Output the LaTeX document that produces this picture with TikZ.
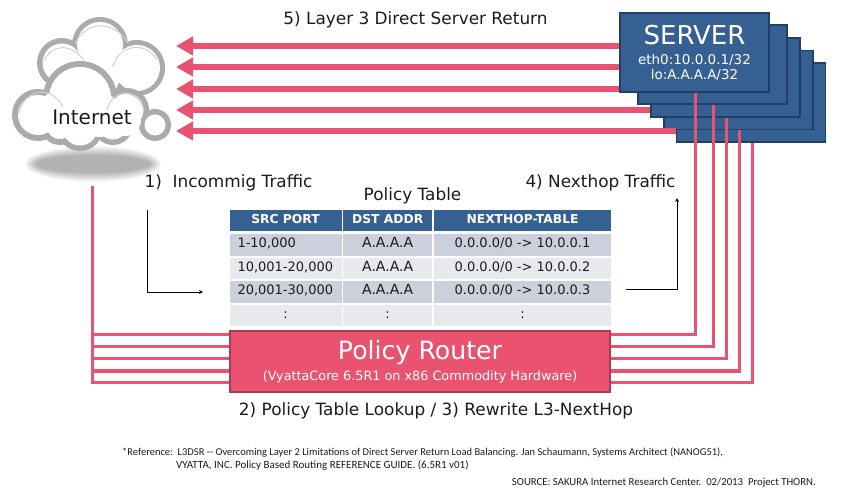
\documentclass[tikz,border=0pt]{standalone}
\usepackage{fontspec}
\setmainfont{DejaVu Sans}
\newfontfamily\notefont{Carlito}
\usetikzlibrary{arrows.meta,positioning}
\definecolor{routerred}{HTML}{E9536F}
\definecolor{routeredge}{HTML}{B03A56}
\definecolor{serverblue}{HTML}{376092}
\definecolor{serveredge}{HTML}{1F3F66}
\definecolor{rowdark}{HTML}{CBD0DC}
\definecolor{rowlight}{HTML}{E7E9ED}
\definecolor{ringgray}{HTML}{ABABAB}
\definecolor{inktext}{HTML}{1C1C1C}
\newcommand{\fs}[1]{\fontsize{#1}{#1}\selectfont}
\begin{document}
\begin{tikzpicture}[
    x=1pt, y=-1pt,
    server/.style={rectangle, draw=serveredge, line width=1.4pt, fill=serverblue, minimum width=149pt, minimum height=79pt, inner sep=0pt},
    router/.style={rectangle, draw=routeredge, line width=1.6pt, fill=routerred, minimum width=380pt, minimum height=61pt, inner sep=0pt},
    cellhead/.style={rectangle, fill=serverblue, text=white, inner sep=0pt, minimum height=21pt, text height=9pt, text depth=2pt, font=\fs{12.3}\bfseries},
    celldark/.style={rectangle, fill=rowdark, text=inktext, inner sep=0pt, minimum height=21.5pt, text height=9pt, text depth=3.5pt, font=\fs{13}},
    celllight/.style={rectangle, fill=rowlight, text=inktext, inner sep=0pt, minimum height=21.5pt, text height=9pt, text depth=3.5pt, font=\fs{13}},
    addr/.style={font=\fs{14}},
    label/.style={text=inktext, inner sep=0pt, font=\fs{16.9}},
    note/.style={text=inktext, inner sep=0pt, font=\notefont\fs{10.5}},
    bigarrow/.style={draw=routerred, line width=5.5pt, -{Triangle[length=17pt,width=18pt]}},
    link/.style={draw=routerred, line width=3pt},
    arrow/.style={->, >=stealth, line width=0.8pt, draw=black},
    glint/.style={draw=black!18, line width=1pt}
]
    \useasboundingbox[fill=white] (0,0) rectangle (843,502);

    % Cloud shadow
    \foreach \k in {0,1,...,9}
        \fill[black!\the\numexpr 3+\k*3\relax] (93,164) ellipse [x radius=68-\k*1.2, y radius=18-\k*1];

    % Back cloud
    \foreach \cx/\cy/\r in {100/45/28, 62/63/25, 137/68/28, 95/75/30}
        \fill[ringgray] (\cx,\cy) circle [radius=\r];
    \foreach \cx/\cy/\r in {100/45/23, 62/63/19.5, 137/68/23, 95/75/25}
        \fill[white] (\cx,\cy) circle [radius=\r];
    \draw[glint] (75,44) .. controls (85,20) and (115,20) .. (128,43);
    \draw[glint] (44,60) .. controls (55,42) and (72,45) .. (84,60);
    \draw[glint] (113,67) .. controls (118,45) and (145,40) .. (157,60);
    % Front cloud
    \foreach \cx/\cy/\r in {38/115/26, 80/98/37, 127/110/22, 155/125/16, 80/128/23, 113/125/20, 60/125/20}
        \fill[ringgray] (\cx,\cy) circle [radius=\r];
    \foreach \cx/\cy/\r in {38/115/20, 80/98/31, 127/110/16.5, 155/125/10.5, 80/128/17.5, 113/125/14.5, 60/125/14, 60/112/22, 100/115/22, 125/120/16}
        \fill[white] (\cx,\cy) circle [radius=\r];
    \draw[glint] (19,113) .. controls (25,88) and (52,85) .. (63,107);
    \draw[glint] (107,110) .. controls (112,88) and (138,88) .. (144,110);
    \node[text=inktext, inner sep=0pt, font=\fs{20}] (internet) at (92,117) {Internet};

    % Servers
    \node[server] (srvE) at (751,102.5) {};
    \node[server] (srvD) at (738.5,90) {};
    \node[server] (srvC) at (725.5,77.5) {};
    \node[server] (srvB) at (712.5,64.5) {};
    \node[server, align=center, text=white] (srvA) at (694.5,52.5) {{\fs{26}SERVER}\\[8pt]{\fs{13.5}eth0:10.0.0.1/32}\\[3pt]{\fs{13.5}lo:A.A.A.A/32}};

    % Policy Router
    \node[router, align=center, text=white] (router) at (420,361.5) {{\fs{25.2}Policy Router}\\[5pt]{\fs{12.8}(VyattaCore 6.5R1 on x86 Commodity Hardware)}};

    % Return traffic
    \coordinate (retA) at (176,46);
    \coordinate (retB) at (176,67);
    \coordinate (retC) at (176,89);
    \coordinate (retD) at (176,110);
    \coordinate (retE) at (176,131);
    \draw[bigarrow] (srvA.west |- retA) -- (retA);
    \draw[bigarrow] (srvA.west |- retB) -- (retB);
    \draw[bigarrow] (srvA.west |- retC) -- (retC);
    \draw[bigarrow] (srvC.west |- retD) -- (retD);
    \draw[bigarrow] (srvE.west |- retE) -- (retE);

    % Nexthop links
    \coordinate (hopA) at (695,335);
    \coordinate (hopB) at (713,347);
    \coordinate (hopC) at (726,359);
    \coordinate (hopD) at (739,371);
    \coordinate (hopE) at (752,382.5);
    \draw[link] (hopA |- srvA.south) -- (hopA) -- (router.east |- hopA);
    \draw[link] (hopB |- srvB.south) -- (hopB) -- (router.east |- hopB);
    \draw[link] (hopC |- srvC.south) -- (hopC) -- (router.east |- hopC);
    \draw[link] (hopD |- srvD.south) -- (hopD) -- (router.east |- hopD);
    \draw[link] (hopE |- srvE.south) -- (hopE) -- (router.east |- hopE);

    % Incoming links
    \coordinate (drop) at (92.5,186);
    \coordinate (busA) at (92.5,335);
    \coordinate (busB) at (92.5,347);
    \coordinate (busC) at (92.5,359);
    \coordinate (busD) at (92.5,371);
    \coordinate (busE) at (92.5,382.5);
    \draw[link] (drop) -- (busE) -- (router.west |- busE);
    \draw[link] (busA) -- (router.west |- busA);
    \draw[link] (busB) -- (router.west |- busB);
    \draw[link] (busC) -- (router.west |- busC);
    \draw[link] (busD) -- (router.west |- busD);

    % Policy Table
    \node[cellhead, minimum width=112pt] (headsrc) at (285.5,220.5) {SRC PORT};
    \node[cellhead, minimum width=89.5pt, right=1pt of headsrc] (headdst) {DST ADDR};
    \node[cellhead, minimum width=177.5pt, right=1pt of headdst] (headhop) {NEXTHOP-TABLE};

    \node[celldark, minimum width=112pt, text width=96pt, below=3pt of headsrc] (srcA) {1-10,000};
    \node[celldark, addr, minimum width=89.5pt, below=3pt of headdst] (dstA) {A.A.A.A};
    \node[celldark, minimum width=177.5pt, below=3pt of headhop] (hopcellA) {0.0.0.0/0 -> 10.0.0.1};

    \node[celllight, minimum width=112pt, text width=96pt, below=1.5pt of srcA] (srcB) {10,001-20,000};
    \node[celllight, addr, minimum width=89.5pt, below=1.5pt of dstA] (dstB) {A.A.A.A};
    \node[celllight, minimum width=177.5pt, below=1.5pt of hopcellA] (hopcellB) {0.0.0.0/0 -> 10.0.0.2};

    \node[celldark, minimum width=112pt, text width=96pt, below=1.5pt of srcB] (srcC) {20,001-30,000};
    \node[celldark, addr, minimum width=89.5pt, below=1.5pt of dstB] (dstC) {A.A.A.A};
    \node[celldark, minimum width=177.5pt, below=1.5pt of hopcellB] (hopcellC) {0.0.0.0/0 -> 10.0.0.3};

    \node[celllight, minimum width=112pt, below=1.5pt of srcC] (srcD) {:};
    \node[celllight, minimum width=89.5pt, below=1.5pt of dstC] (dstD) {:};
    \node[celllight, minimum width=177.5pt, below=1.5pt of hopcellC] (hopcellD) {:};

    % Labels
    \node[label] (lblreturn) at (415.5,20) {5) Layer 3 Direct Server Return};
    \node[label] (lblin) at (228.5,183) {1)\ \ Incommig Traffic};
    \node[label] (lblhop) at (600.5,183) {4) Nexthop Traffic};
    \node[label] (lbltable) at (412.5,196) {Policy Table};
    \node[label] (lbllookup) at (436,411) {2) Policy Table Lookup / 3) Rewrite L3-NextHop};

    % Small arrows
    \coordinate (inA) at (147,210);
    \coordinate (inB) at (147,292);
    \coordinate (inC) at (203,292);
    \coordinate (outA) at (626,289);
    \coordinate (outB) at (677,289);
    \coordinate (outC) at (677,198);
    \draw[arrow] (inA) -- (inB) -- (inC);
    \draw[arrow] (outA) -- (outB) -- (outC);

    % Notes
    \node[note, anchor=west] (noteA) at (122,453) {*Reference:\ \ L3DSR -- Overcoming Layer 2 Limitations of Direct Server Return Load Balancing. Jan Schaumann, Systems Architect (NANOG51),};
    \node[note, anchor=west, font=\notefont\fs{11}] (noteB) at (176,465) {VYATTA, INC. Policy Based Routing REFERENCE GUIDE. (6.5R1 v01)};
    \node[note, anchor=east, font=\notefont\fs{10.75}] (noteC) at (816,483) {SOURCE: SAKURA Internet Research Center.\ \ 02/2013\ \ Project THORN.};
\end{tikzpicture}
\end{document}
